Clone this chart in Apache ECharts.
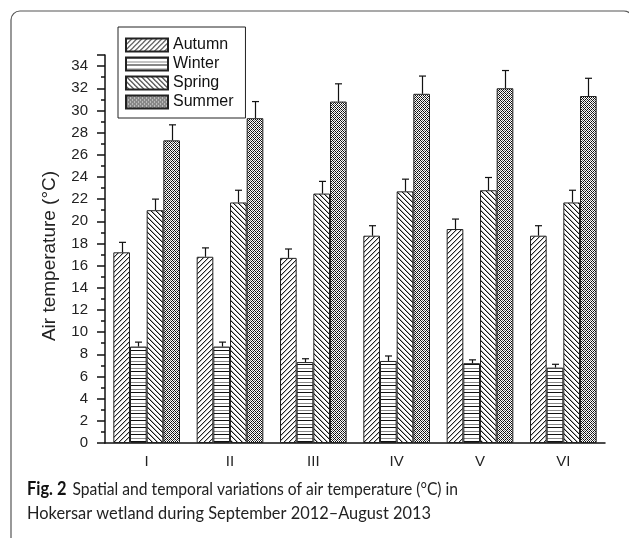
<!DOCTYPE html>
<html>
<head>
<meta charset="utf-8">
<script src="https://cdn.jsdelivr.net/npm/echarts@6/dist/echarts.min.js"></script>
<style>
  html, body { margin: 0; padding: 0; background: #fff; }
  #chart { width: 629px; height: 538px; }
</style>
</head>
<body>
<div id="chart"></div>
<script>
// Sites along the wetland
const sites = ['I', 'II', 'III', 'IV', 'V', 'VI'];
const seasons = ['Autumn', 'Winter', 'Spring', 'Summer'];

// Mean seasonal air temperature (°C) per site
const autumn = [17.2, 16.8, 16.7, 18.7, 19.3, 18.7];
const winter = [8.7, 8.7, 7.3, 7.4, 7.2, 6.8];
const spring = [21.0, 21.7, 22.5, 22.7, 22.8, 21.7];
const summer = [27.3, 29.3, 30.8, 31.5, 32.0, 31.3];

// Standard deviations (upper error bars)
const autumnErr = [0.9, 0.8, 0.8, 0.9, 0.9, 0.9];
const winterErr = [0.4, 0.4, 0.3, 0.45, 0.3, 0.3];
const springErr = [1.0, 1.1, 1.1, 1.1, 1.15, 1.1];
const summerErr = [1.4, 1.5, 1.6, 1.6, 1.6, 1.6];

const yTicks = [0, 2, 4, 6, 8, 10, 12, 14, 16, 18, 20, 22, 24, 26, 28, 30, 32, 34];

const captionBold = 'Fig. 2';
const captionLine1 = 'Spatial and temporal variations of air temperature (°C) in';
const captionLine2 = 'Hokersar wetland during September 2012–August 2013';

// ---- hatch fills ----
function tile(w, h, paint) {
  const c = document.createElement('canvas');
  c.width = w; c.height = h;
  const ctx = c.getContext('2d');
  ctx.fillStyle = '#fff';
  ctx.fillRect(0, 0, w, h);
  for (let y = 0; y < h; y++) {
    for (let x = 0; x < w; x++) {
      const col = paint(x, y);
      if (col) { ctx.fillStyle = col; ctx.fillRect(x, y, 1, 1); }
    }
  }
  return { image: c, repeat: 'repeat' };
}
const fills = [
  // forward diagonal
  tile(5, 5, (x, y) => ((x + y) % 5 === 0 ? '#222' : ((x + y) % 5 === 1 ? '#bbb' : null))),
  // horizontal lines, alternating dark / grey
  tile(1, 7, (x, y) => (y === 0 ? '#111' : (y === 4 ? '#888' : null))),
  // back diagonal
  tile(5, 5, (x, y) => (((x - y + 10) % 5 === 0) ? '#111' : (((x - y + 10) % 5 === 1) ? '#aaa' : null))),
  // dense cross hatch
  tile(4, 4, (x, y) => (((x + y) % 4 === 0 || ((x - y + 8) % 4 === 0)) ? '#111' : ((x + y) % 2 === 0 ? '#777' : null)))
];

const values = [autumn, winter, spring, summer];
const errors = [autumnErr, winterErr, springErr, summerErr];

const FONT = 'Liberation Sans, Arial, sans-serif';
const CAP_FONT = 'Lato';
const CAP_SIZE = 18;

// caption lines are squeezed horizontally to fixed extents
function textWidth(str, weight) {
  const ctx = document.createElement('canvas').getContext('2d');
  ctx.font = (weight || 'normal') + ' ' + CAP_SIZE + 'px ' + CAP_FONT;
  return ctx.measureText(str).width;
}
const capLeft = 27;
const capScale = 404 / textWidth(captionLine2);
const restLeft = capLeft + textWidth(captionBold, 'bold') * capScale + 6;
const restScale = (458 - restLeft) / textWidth(captionLine1);

function captionText(x, y, sx, str, bold) {
  return {
    type: 'text',
    x: x,
    y: y,
    scaleX: sx,
    style: {
      text: str,
      fontSize: CAP_SIZE,
      fontFamily: CAP_FONT,
      fontWeight: bold ? 'bold' : 'normal',
      fill: bold ? '#111' : '#222',
      verticalAlign: 'middle'
    }
  };
}

const barSeries = seasons.map((name, k) => ({
  name: name,
  type: 'bar',
  data: values[k],
  barGap: '0%',
  barCategoryGap: '20%',
  itemStyle: { color: fills[k], borderColor: '#222', borderWidth: 1 },
  emphasis: { disabled: true }
}));

// upper error bars, offset to the centre of each season's bar
const errSeries = seasons.map((name, k) => ({
  type: 'custom',
  xAxisIndex: 0,
  yAxisIndex: 0,
  silent: true,
  z: 5,
  data: values[k].map((v, i) => [i, v, errors[k][i]]),
  renderItem: function (params, api) {
    const i = api.value(0), v = api.value(1), e = api.value(2);
    const band = api.size([1, 0])[0];
    const bw = band * 0.8 / 4;
    const base = api.coord([i, v]);
    const top = api.coord([i, v + e]);
    const cx = Math.round(base[0] + (k - 1.5) * bw) + 0.5;
    const half = 3.5;
    const st = { stroke: '#111', lineWidth: 1.2 };
    return {
      type: 'group',
      children: [
        { type: 'line', shape: { x1: cx, y1: base[1], x2: cx, y2: top[1] }, style: st },
        { type: 'line', shape: { x1: cx - half, y1: top[1], x2: cx + half, y2: top[1] }, style: st }
      ]
    };
  }
}));

const chart = echarts.init(document.getElementById('chart'), null, { renderer: 'canvas' });
chart.setOption({
  animation: false,
  backgroundColor: '#fff',
  textStyle: { fontFamily: FONT },
  grid: { left: 105, right: 24, top: 55, bottom: 95 },
  legend: {
    data: seasons,
    orient: 'vertical',
    left: 118,
    top: 27,
    itemWidth: 42,
    itemHeight: 13,
    itemGap: 3,
    icon: 'rect',
    padding: [10, 12, 8, 7],
    borderColor: '#222',
    borderWidth: 1,
    backgroundColor: '#fff',
    textStyle: { fontSize: 16, color: '#111', fontFamily: FONT },
    z: 10
  },
  xAxis: [{
    type: 'category',
    data: sites,
    axisLine: { lineStyle: { color: '#111', width: 1.5 } },
    axisTick: { alignWithLabel: true, length: 6, lineStyle: { color: '#111', width: 1.5 } },
    axisLabel: { fontSize: 15, color: '#222', margin: 11 }
  }, {
    type: 'category',
    data: sites,
    position: 'bottom',
    axisLine: { show: false },
    axisTick: { length: 3, lineStyle: { color: '#111', width: 1.5 } },
    axisLabel: { show: false }
  }],
  yAxis: {
    type: 'value',
    min: 0,
    max: 35,
    interval: 2,
    axisLine: { show: true, lineStyle: { color: '#111', width: 1.5 } },
    axisTick: { show: true, length: 8, lineStyle: { color: '#111', width: 1.5 } },
    minorTick: { show: true, splitNumber: 2, length: 4, lineStyle: { color: '#111', width: 1.5 } },
    splitLine: { show: false },
    axisLabel: {
      fontSize: 15, color: '#222', margin: 17,
      formatter: v => (yTicks.indexOf(v) >= 0 ? String(v) : '')
    }
  },
  series: barSeries.concat(errSeries),
  graphic: [
    {
      type: 'rect',
      shape: { x: 11, y: 11, width: 622, height: 600, r: 9 },
      style: { fill: 'none', stroke: '#555', lineWidth: 1.2 },
      silent: true
    },
    {
      type: 'text',
      x: 50,
      y: 256,
      rotation: Math.PI / 2,
      style: {
        text: 'Air temperature (°C)',
        fontSize: 19,
        fontFamily: FONT,
        fill: '#222',
        align: 'center',
        verticalAlign: 'middle'
      }
    },
    captionText(capLeft, 489, capScale, captionBold, true),
    captionText(restLeft, 489, restScale, captionLine1, false),
    captionText(capLeft, 513, capScale, captionLine2, false)
  ]
});
</script>
</body>
</html>
